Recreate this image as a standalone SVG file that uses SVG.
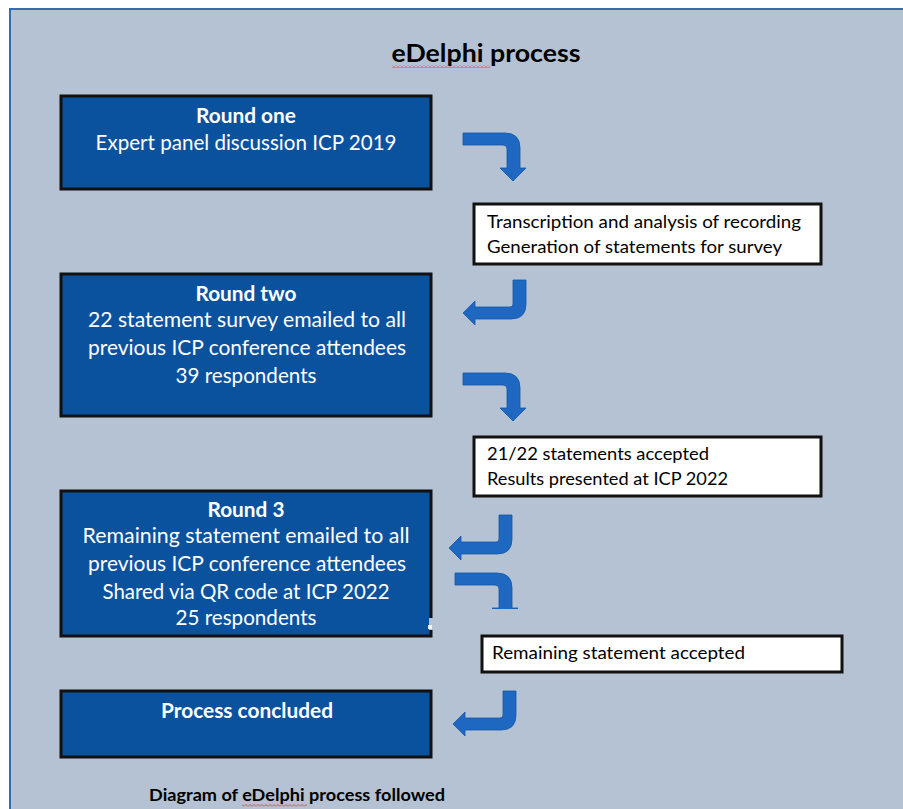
<svg xmlns="http://www.w3.org/2000/svg" width="903" height="809" viewBox="0 0 903 809">
<style>
.panel{fill:#b4c2d3;stroke:#2f6db6;stroke-width:2}
.bluebox{fill:#0b529e;stroke:#111;stroke-width:3}
.whitebox{fill:#fff;stroke:#111;stroke-width:3}
.bt{font-family:Lato,"Open Sans",sans-serif;fill:#fff;font-size:21px;text-anchor:middle}
.b{font-weight:bold}
.wt{font-family:Lato,"Open Sans",sans-serif;fill:#000;font-size:17px}
.ttl{font-family:Lato,"Open Sans",sans-serif;fill:#000;font-weight:bold}
.arrow{fill:#1f68c2;stroke:#1557a6;stroke-width:0.8}
</style>
<defs>
<pattern id="wavy" width="4" height="3" patternUnits="userSpaceOnUse">
<path d="M0,2.5 L2,0.5 L4,2.5" fill="none" stroke="#e23b3b" stroke-width="0.9"/>
</pattern>
<path id="arrowRD" d="M0,0 L42,0 Q57,0 57,15 L57,35 L63,35 L50,48 L37,35 L44,35 L44,16 Q44,12 40,12 L0,12 Z"/>
<path id="arrowDL" d="M-13,0 L0,0 L0,24 Q0,39 -15,39 L-51,39 L-51,45 L-63,33 L-51,21 L-51,27 L-16,27 Q-13,27 -13,24 Z"/>
<clipPath id="clip5"><rect x="440" y="560" width="100" height="49"/></clipPath>
</defs>
<rect class="panel" x="10" y="9" width="900" height="810"/>
<text class="ttl" x="486" y="62" font-size="25" text-anchor="middle" textLength="189" lengthAdjust="spacingAndGlyphs">eDelphi process</text>
<rect x="392" y="65" width="98" height="3" fill="url(#wavy)"/>

<g id="round1">
<rect class="bluebox" x="61" y="96" width="370" height="93"/>
<text class="bt b" x="246" y="123" textLength="100" lengthAdjust="spacingAndGlyphs">Round one</text>
<text class="bt" x="246" y="150" textLength="301" lengthAdjust="spacingAndGlyphs">Expert panel discussion ICP 2019</text>
</g>

<g id="transcription">
<rect class="whitebox" x="474" y="204" width="347" height="60"/>
<text class="wt" x="487" y="228" textLength="314" lengthAdjust="spacingAndGlyphs">Transcription and analysis of recording</text>
<text class="wt" x="487" y="253" textLength="295" lengthAdjust="spacingAndGlyphs">Generation of statements for survey</text>
</g>

<g id="round2">
<rect class="bluebox" x="61" y="274" width="370" height="142"/>
<text class="bt b" x="246" y="301" textLength="101" lengthAdjust="spacingAndGlyphs">Round two</text>
<text class="bt" x="247" y="327" textLength="318" lengthAdjust="spacingAndGlyphs">22 statement survey emailed to all</text>
<text class="bt" x="247" y="355" textLength="318" lengthAdjust="spacingAndGlyphs">previous ICP conference attendees</text>
<text class="bt" x="246" y="383" textLength="141" lengthAdjust="spacingAndGlyphs">39 respondents</text>
</g>

<g id="results">
<rect class="whitebox" x="474" y="437" width="347" height="59"/>
<text class="wt" x="487" y="460" textLength="222" lengthAdjust="spacingAndGlyphs">21/22 statements accepted</text>
<text class="wt" x="487" y="485" textLength="241" lengthAdjust="spacingAndGlyphs">Results presented at ICP 2022</text>
</g>

<g id="round3">
<rect class="bluebox" x="61" y="491" width="370" height="145"/>
<rect x="429" y="618" width="4" height="12" fill="#b4c2d3"/>
<rect x="428" y="625" width="4" height="4" fill="#f2f4f7"/>
<text class="bt b" x="246" y="517" textLength="77" lengthAdjust="spacingAndGlyphs">Round 3</text>
<text class="bt" x="246" y="543" textLength="327" lengthAdjust="spacingAndGlyphs">Remaining statement emailed to all</text>
<text class="bt" x="247" y="571" textLength="318" lengthAdjust="spacingAndGlyphs">previous ICP conference attendees</text>
<text class="bt" x="246" y="599" textLength="287" lengthAdjust="spacingAndGlyphs">Shared via QR code at ICP 2022</text>
<text class="bt" x="246" y="625" textLength="141" lengthAdjust="spacingAndGlyphs">25 respondents</text>
</g>

<g id="remaining">
<rect class="whitebox" x="482" y="636" width="360" height="36"/>
<text class="wt" x="492" y="659" textLength="253" lengthAdjust="spacingAndGlyphs">Remaining statement accepted</text>
</g>

<g id="concluded">
<rect class="bluebox" x="61" y="691" width="370" height="66"/>
<text class="bt b" x="247" y="718" textLength="172" lengthAdjust="spacingAndGlyphs">Process concluded</text>
</g>

<g id="connectors">
<use href="#arrowRD" class="arrow" transform="translate(463,133)"/>
<use href="#arrowDL" class="arrow" transform="translate(526,280)"/>
<use href="#arrowRD" class="arrow" transform="translate(463,373)"/>
<use href="#arrowDL" class="arrow" transform="translate(512,515)"/>
<g clip-path="url(#clip5)"><use href="#arrowRD" class="arrow" transform="translate(455,573)"/></g>
<use href="#arrowDL" class="arrow" transform="translate(516,691)"/>
</g>

<text class="ttl" x="149" y="801" font-size="17" textLength="296" lengthAdjust="spacingAndGlyphs">Diagram of eDelphi process followed</text>
<rect x="242" y="804" width="65" height="3" fill="url(#wavy)"/>
</svg>
